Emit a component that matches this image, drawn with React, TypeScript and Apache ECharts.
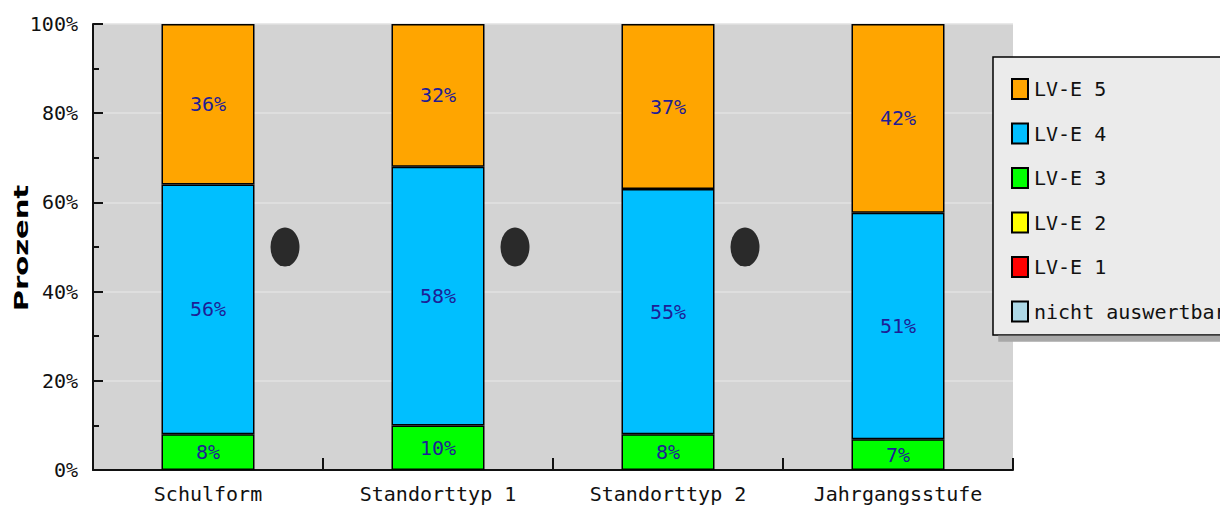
import React, { useEffect, useRef } from "react";
import * as echarts from "echarts";

const categories = ["Schulform", "Standorttyp 1", "Standorttyp 2", "Jahrgangsstufe"];
const nichtAuswertbar = [0, 0, 0, 0];
const lve1 = [0, 0, 0, 0];
const lve2 = [0, 0, 0, 0];
const lve3 = [8, 10, 8, 6.9];
const lve4 = [56, 58, 55, 50.8];
const lve5 = [36, 32, 37, 42.3];
const dotValues = [
  [0, 50],
  [1, 50],
  [2, 50],
];
const seriesNames = ["nicht auswertbar", "LV-E 1", "LV-E 2", "LV-E 3", "LV-E 4", "LV-E 5"];
const seriesData = [nichtAuswertbar, lve1, lve2, lve3, lve4, lve5];
const seriesColors = ["#ADD8E6", "#FF0000", "#FFFF00", "#00FF00", "#00BFFF", "#FFA500"];
const legendOrder = ["LV-E 5", "LV-E 4", "LV-E 3", "LV-E 2", "LV-E 1", "nicht auswertbar"];
const yTicks = [0, 20, 40, 60, 80, 100];

const FONT = '"DejaVu Sans Mono", monospace';

export default function App() {
  const ref = useRef<HTMLDivElement>(null);
  useEffect(() => {
    if (!ref.current) return;
    const chart = echarts.init(ref.current, null, { renderer: "svg" });
    const bars = seriesNames.map((name, i) => ({
      name,
      type: "bar",
      stack: "total",
      barWidth: 93,
      data: seriesData[i].map((v) => (v === 0 ? null : v)),
      itemStyle: { color: seriesColors[i], borderColor: "#000", borderWidth: 1.5 },
      label: {
        show: true,
        position: "inside",
        formatter: (p: any) => Math.round(p.value) + "%",
        color: "#1e1e96",
        fontFamily: FONT,
        fontSize: 20,
      },
    }));
    chart.setOption({
      animation: false,
      backgroundColor: "#ffffff",
      grid: {
        left: 93,
        top: 24,
        width: 920,
        height: 446,
        show: true,
        backgroundColor: "#d3d3d3",
        borderWidth: 0,
      },
      xAxis: {
        type: "category",
        data: categories,
        axisLine: { lineStyle: { color: "#111", width: 2 } },
        axisTick: { show: true, inside: true, length: 12, lineStyle: { color: "#111", width: 2 } },
        axisLabel: { color: "#111", fontFamily: FONT, fontSize: 20, margin: 14 },
      },
      yAxis: {
        type: "value",
        min: yTicks[0],
        max: yTicks[yTicks.length - 1],
        interval: 20,
        axisLine: { show: true, lineStyle: { color: "#111", width: 2 } },
        axisTick: { show: true, inside: true, length: 10, lineStyle: { color: "#111", width: 2 } },
        minorTick: { show: true, splitNumber: 2, length: 6, lineStyle: { color: "#111", width: 2 } },
        splitLine: { show: true, lineStyle: { color: "#e2e2e2", width: 1.5 } },
        axisLabel: {
          color: "#111",
          fontFamily: FONT,
          fontSize: 20,
          margin: 15,
          formatter: (v: number) => v + "%",
        },
      },
      legend: {
        orient: "vertical",
        left: 993,
        top: 57,
        z: 6,
        data: legendOrder,
        icon: "rect",
        itemWidth: 16,
        itemHeight: 20,
        itemGap: 22.5,
        padding: [21, 0, 22, 18],
        selectedMode: false,
        textStyle: { color: "#111", fontFamily: FONT, fontSize: 20, padding: [0, 0, 0, 1] },
      },
      graphic: [
        {
          type: "rect",
          z: 5,
          shape: { x: 993, y: 57, width: 320, height: 278 },
          style: {
            fill: "#ebebeb",
            stroke: "#000",
            lineWidth: 1.5,
            shadowColor: "#a8a8a8",
            shadowOffsetX: 6,
            shadowOffsetY: 6,
            shadowBlur: 0,
          },
        },
        {
          type: "text",
          x: 21,
          y: 248,
          rotation: Math.PI / 2,
          scaleX: 1.45,
          style: {
            text: "Prozent",
            font: 'bold 20px "DejaVu Sans", sans-serif',
            fill: "#000",
            textAlign: "center",
            textVerticalAlign: "middle",
          },
        },
      ],
      series: [
        ...bars,
        {
          name: "dots",
          type: "scatter",
          data: dotValues,
          symbol: "circle",
          symbolSize: [29, 39],
          symbolOffset: [77, 0],
          itemStyle: { color: "#2a2a2a", opacity: 1 },
          z: 5,
        },
      ],
    });
    return () => chart.dispose();
  }, []);
  return (
    <div
      ref={ref}
      style={{ position: "fixed", left: 0, top: 0, width: 1220, height: 514 }}
    />
  );
}
